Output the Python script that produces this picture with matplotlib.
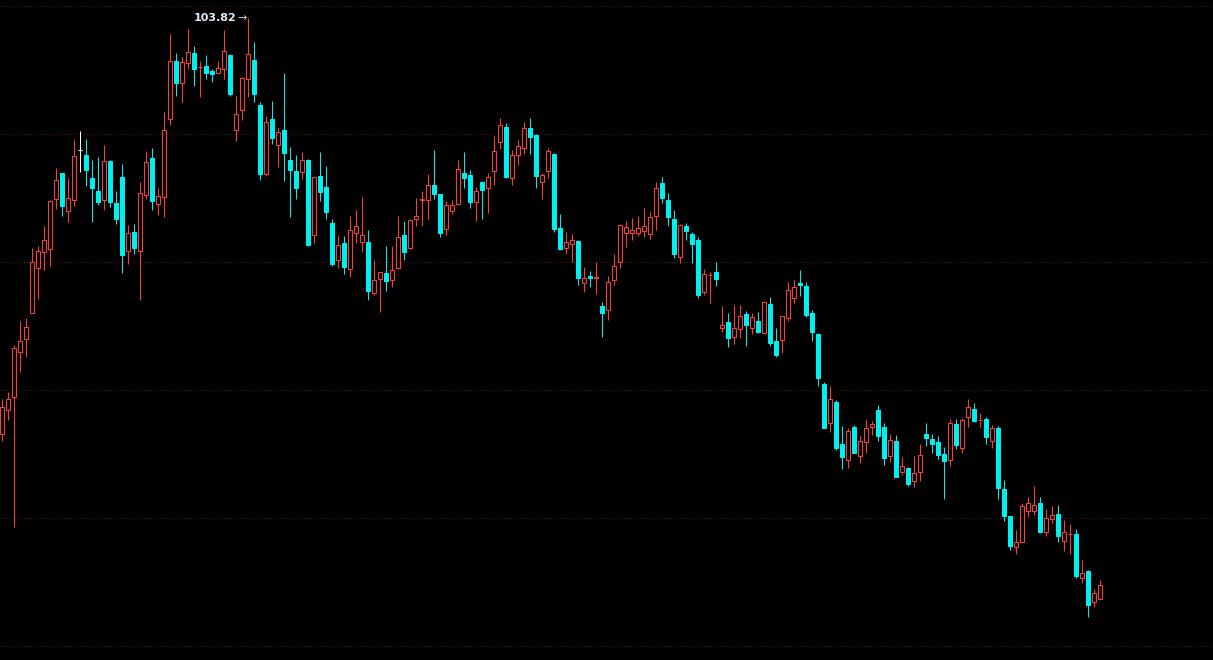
import matplotlib
matplotlib.use("Agg")
import matplotlib.pyplot as plt
from matplotlib.patches import Rectangle
import numpy as np

opens = [62.22,64.62,65.92,70.42,71.78,74.32,78.82,80.42,80.78,85.78,
88.35,84.52,85.62,90.62,90.15,87.85,86.55,85.68,89.55,85.35,
87.95,80.58,82.45,80.58,86.18,89.85,85.28,85.98,93.78,99.55,
97.38,99.38,100.35,98.95,99.05,98.58,98.38,98.72,100.15,92.68,
94.68,97.78,99.62,95.12,88.28,93.75,91.18,92.65,89.62,88.55,
88.48,89.65,82.18,88.05,86.95,83.35,79.68,81.35,78.78,82.38,
81.48,81.45,76.38,77.78,78.35,77.68,78.88,82.15,80.82,83.72,
85.65,85.62,87.12,86.25,82.72,84.58,85.28,88.35,88.15,85.48,
87.45,86.88,88.58,91.48,92.95,87.88,90.18,90.82,92.85,92.15,
87.48,88.52,90.25,82.85,80.88,81.28,81.55,77.38,78.05,77.85,
75.05,74.62,77.62,79.42,82.38,82.38,82.32,82.58,82.28,84.02,
87.32,85.62,83.72,79.92,83.02,82.22,81.62,76.42,78.10,78.45,
72.82,73.42,71.92,72.72,74.22,72.82,73.52,72.32,75.22,71.55,
71.62,73.82,75.82,77.32,77.05,74.35,72.25,67.25,63.38,65.45,
61.25,59.68,62.92,60.08,61.48,62.92,64.65,62.92,60.08,61.52,
58.40,58.82,57.58,58.42,62.25,61.72,61.45,60.22,59.68,63.25,
60.88,63.92,64.75,63.60,63.75,61.58,62.85,56.75,54.05,50.92,
51.42,54.58,54.58,55.35,52.48,53.72,54.25,51.58,52.25,52.25,
47.82,48.55,45.42,45.78]

highs = [65.72,66.48,71.15,73.55,73.82,80.85,81.05,83.05,85.65,88.85,
88.35,87.85,91.65,92.55,91.75,89.65,89.95,91.15,89.65,86.55,
89.25,83.15,83.25,87.45,90.55,90.85,86.85,94.45,102.25,100.35,
99.95,102.75,101.05,99.55,100.12,98.72,99.55,102.65,100.25,96.05,
97.95,103.82,101.45,95.42,94.05,95.55,92.85,98.35,90.95,90.15,
90.45,89.75,87.92,90.45,89.05,83.75,82.15,82.05,84.05,84.65,
85.95,82.65,79.65,78.42,81.05,81.05,84.05,83.55,83.72,85.82,
86.55,88.25,90.65,86.25,85.55,85.65,89.65,90.45,88.65,86.95,
87.55,88.35,92.05,93.85,93.35,90.65,91.65,93.45,93.85,92.25,
88.32,90.82,90.35,84.25,82.45,82.25,81.65,78.98,78.52,79.45,
75.45,78.02,80.25,83.22,83.55,83.85,84.05,84.85,84.45,87.42,
87.95,86.35,84.65,83.22,83.32,82.42,81.95,78.72,78.42,79.45,
75.02,74.32,75.12,75.12,74.52,74.32,74.42,75.52,75.92,72.82,
74.02,77.42,77.62,78.62,77.42,74.65,72.38,67.45,67.05,65.65,
63.05,62.88,63.15,62.05,63.75,63.55,65.15,63.35,62.25,62.12,
59.92,58.92,60.02,61.22,63.35,62.25,62.02,60.92,63.75,63.75,
63.85,65.75,65.35,64.35,63.95,63.15,63.05,57.65,54.05,52.65,
55.32,55.95,57.05,55.95,54.75,55.05,55.15,53.68,53.28,52.75,
49.68,48.65,46.78,47.65]

lows = [61.58,63.68,52.98,68.48,69.98,74.32,75.78,78.68,79.08,84.72,
84.08,83.48,85.08,88.48,87.08,83.48,85.15,84.68,84.98,83.28,
78.38,79.28,80.28,75.68,85.78,84.65,84.18,83.98,93.18,96.05,
95.45,98.78,97.08,95.98,97.78,97.48,98.32,97.78,96.08,91.58,
93.68,95.98,95.48,87.68,88.08,91.28,88.98,87.58,83.98,85.75,
87.78,81.05,81.38,85.55,83.78,79.08,78.88,78.28,77.98,81.38,
80.48,75.68,76.18,74.48,76.58,76.98,78.78,79.68,80.72,83.02,
83.08,83.78,85.78,81.98,82.18,84.28,85.18,86.88,84.88,83.58,
83.78,84.38,87.15,90.78,87.85,87.18,89.18,90.28,90.28,86.88,
85.78,87.88,82.48,80.68,80.28,79.48,77.18,76.48,76.98,76.30,
71.98,73.68,77.18,78.88,80.98,81.68,82.08,81.98,81.78,82.68,
85.38,83.08,79.88,79.38,81.68,79.38,75.88,76.18,75.38,77.08,
72.42,70.98,71.22,71.82,71.08,72.22,72.38,72.32,71.08,69.98,
70.38,73.52,75.32,76.08,73.98,71.58,67.08,62.88,62.48,60.68,
58.78,58.88,60.38,59.38,60.38,62.18,61.58,59.18,59.48,57.98,
58.18,57.08,56.98,57.52,61.08,60.38,59.78,55.78,59.08,60.78,
60.38,62.92,63.45,62.92,61.28,60.88,55.78,53.52,50.65,50.28,
51.42,53.98,54.18,52.35,52.08,53.32,51.48,50.58,50.28,47.88,
47.38,43.98,44.98,45.72]

closes = [64.92,65.72,70.82,71.52,72.92,79.42,80.52,81.62,85.55,87.62,
85.08,85.82,90.02,90.62,88.68,86.88,85.48,89.52,85.48,83.78,
80.18,82.32,80.88,86.32,89.42,85.58,86.02,92.62,99.52,97.38,
99.42,100.42,98.78,99.00,98.38,98.28,98.82,100.52,96.28,94.22,
97.82,100.22,96.28,88.28,93.42,91.88,92.42,90.38,88.68,86.88,
89.62,81.15,87.92,86.48,84.48,79.28,81.12,78.98,82.62,83.02,
82.12,76.58,77.62,78.42,77.58,78.62,81.92,80.48,83.62,84.02,
85.70,87.12,86.28,82.35,85.12,85.12,88.72,87.88,85.48,86.55,
86.68,87.92,90.55,93.15,87.98,90.12,91.02,92.82,91.98,88.08,
88.12,90.52,82.78,80.78,81.42,81.62,77.88,77.82,77.88,77.90,
74.38,77.42,79.02,83.12,82.92,82.62,82.82,83.02,83.95,86.82,
85.88,83.98,80.28,83.12,82.58,81.28,76.18,78.22,78.15,77.78,
73.12,71.88,72.82,74.02,73.18,73.92,72.48,75.42,71.38,70.18,
74.02,76.62,76.92,77.18,74.18,72.48,67.88,62.88,65.72,60.88,
59.98,62.52,60.38,61.52,62.82,63.22,62.08,59.88,61.62,57.98,
59.02,57.28,58.32,60.12,61.88,61.28,60.18,59.58,63.35,61.18,
63.65,64.92,63.58,63.65,61.98,62.82,56.88,54.08,51.08,51.45,
55.02,55.32,55.12,52.45,53.82,54.12,52.08,52.42,52.30,48.08,
48.32,45.18,46.32,47.12]

max_label = "103.82"

UP = "#ff3c3c"
DOWN = "#00f0f0"
FLAT = "#ffffff"

W, H = 1213, 660
fig = plt.figure(figsize=(W / 100, H / 100), dpi=100, facecolor="black")
ax = fig.add_axes([0, 0, 1, 1], facecolor="black")

px = 6.0  # pixels per candle
x0 = -2.3 / px
ax.set_xlim(x0, x0 + W / px)
ax.set_ylim(39.65, 105.65)

# grid lines (dotted, dark red)
ylo, yhi = ax.get_ylim()
for k in range(6):
    frac = (6 + 128 * k) / H
    ax.axhline(yhi - frac * (yhi - ylo), color="#5c1616", lw=0.8,
               linestyle=(0, (1, 2)), zorder=0)

bw = 4.0 / px
lw = 0.75
for i, (o, h, l, c) in enumerate(zip(opens, highs, lows, closes)):
    if c > o:
        ax.vlines(i, c, h, color=UP, lw=lw, zorder=2)
        ax.vlines(i, l, o, color=UP, lw=lw, zorder=2)
        ax.add_patch(Rectangle((i - bw / 2, o), bw, c - o, facecolor="black",
                               edgecolor=UP, lw=lw, zorder=3))
    elif c < o:
        ax.vlines(i, l, h, color=DOWN, lw=lw, zorder=2)
        ax.add_patch(Rectangle((i - bw / 2, c), bw, o - c, facecolor=DOWN,
                               edgecolor=DOWN, lw=lw, zorder=3))
    else:
        ax.vlines(i, l, h, color=FLAT, lw=lw, zorder=2)
        ax.hlines(o, i - bw / 2, i + bw / 2, color=FLAT, lw=lw, zorder=3)

imax = int(np.argmax(highs))
ax.text(imax - 0.2, highs[imax], "\u2192", ha="right", va="center",
        color="#c8ccd2", fontsize=8, family="DejaVu Sans", zorder=5)
ax.text(imax - 2.05, highs[imax], max_label, ha="right", va="center",
        color="#e6ecf5", fontsize=8, fontweight="bold", family="DejaVu Sans",
        zorder=5)

ax.set_axis_off()
fig.savefig("out.png", dpi=100, facecolor="black")
